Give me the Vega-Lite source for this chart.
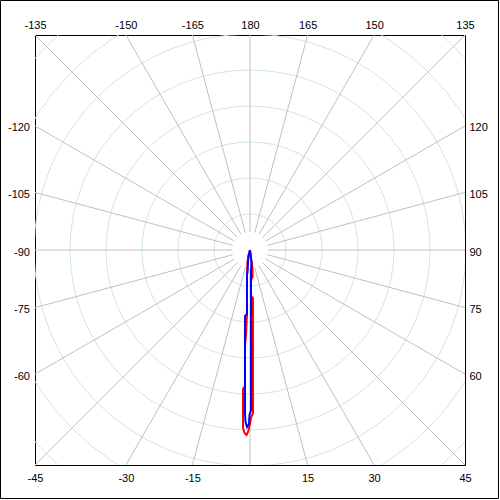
{
  "$schema": "https://vega.github.io/schema/vega-lite/v6.json",
  "width": 430,
  "height": 430,
  "autosize": {"type": "none"},
  "padding": 35,
  "background": "white",
  "config": {
    "view": {"stroke": "black", "strokeWidth": 1},
    "axis": {"labelFont": "Liberation Sans", "labelFontSize": 11, "labelColor": "black", "ticks": false, "domain": false, "grid": false, "tickSize": 0, "labelFlush": false, "labelOverlap": false, "labelBound": false}
  },
  "datasets": {
    "rings": [{"r": 36}, {"r": 72}, {"r": 108}, {"r": 144}, {"r": 180}, {"r": 216}, {"r": 252}, {"r": 288}],
    "spokes": [{"angle": -165}, {"angle": -150}, {"angle": -135}, {"angle": -120}, {"angle": -105}, {"angle": -90}, {"angle": -75}, {"angle": -60}, {"angle": -45}, {"angle": -30}, {"angle": -15}, {"angle": 0}, {"angle": 15}, {"angle": 30}, {"angle": 45}, {"angle": 60}, {"angle": 75}, {"angle": 90}, {"angle": 105}, {"angle": 120}, {"angle": 135}, {"angle": 150}, {"angle": 165}, {"angle": 180}],
    "red": [
      {"i": 1, "angle": 0, "r": 0},
      {"i": 2, "angle": -14.0, "r": 6.2},
      {"i": 3, "angle": -11.8, "r": 12.3},
      {"i": 4, "angle": -6.8, "r": 25.2},
      {"i": 5, "angle": -2.7, "r": 64.1},
      {"i": 6, "angle": -2.7, "r": 85.1},
      {"i": 7, "angle": -3.0, "r": 95.1},
      {"i": 8, "angle": -2.1, "r": 136.1},
      {"i": 9, "angle": -2.88, "r": 139.2},
      {"i": 10, "angle": -2.25, "r": 178.1},
      {"i": 11, "angle": -1.72, "r": 183.1},
      {"i": 12, "angle": -1.08, "r": 185.0},
      {"i": 13, "angle": -0.63, "r": 182.0},
      {"i": 14, "angle": -0.16, "r": 176.0},
      {"i": 15, "angle": 0.34, "r": 168.0},
      {"i": 16, "angle": 1.05, "r": 163.0},
      {"i": 17, "angle": 1.72, "r": 100.0},
      {"i": 18, "angle": 3.58, "r": 48.1},
      {"i": 19, "angle": 1.25, "r": 46.0},
      {"i": 20, "angle": 1.91, "r": 30.0},
      {"i": 21, "angle": 5.29, "r": 27.1},
      {"i": 22, "angle": 7.5, "r": 19.2},
      {"i": 23, "angle": 7.1, "r": 8.1},
      {"i": 24, "angle": 0, "r": 0}
    ],
    "blue": [
      {"i": 1, "angle": 0, "r": 0},
      {"i": 2, "angle": -14.0, "r": 6.2},
      {"i": 3, "angle": -9.5, "r": 12.2},
      {"i": 4, "angle": -6.5, "r": 22.1},
      {"i": 5, "angle": -6.8, "r": 25.2},
      {"i": 6, "angle": -2.7, "r": 64.1},
      {"i": 7, "angle": -4.3, "r": 66.2},
      {"i": 8, "angle": -2.4, "r": 120.1},
      {"i": 9, "angle": -1.76, "r": 163.1},
      {"i": 10, "angle": -1.5, "r": 172.1},
      {"i": 11, "angle": -0.97, "r": 177.0},
      {"i": 12, "angle": -0.33, "r": 174.0},
      {"i": 13, "angle": -0.17, "r": 165.0},
      {"i": 14, "angle": 0.36, "r": 160.0},
      {"i": 15, "angle": 0.57, "r": 100.0},
      {"i": 16, "angle": 1.15, "r": 50.0},
      {"i": 17, "angle": 2.6, "r": 22.0},
      {"i": 18, "angle": 7.1, "r": 12.1},
      {"i": 19, "angle": 7.1, "r": 4.0},
      {"i": 20, "angle": 0, "r": 0}
    ]
  },
  "resolve": {"axis": {"x": "independent", "y": "independent"}},
  "layer": [
    {
      "data": {"name": "rings"},
      "mark": {"type": "point", "shape": "circle", "filled": false, "color": "#cce6ee", "strokeWidth": 1, "opacity": 1, "clip": true},
      "encoding": {
        "x": {"datum": 0, "type": "quantitative", "scale": {"domain": [-215, 215], "nice": false, "zero": false}, "axis": null},
        "y": {"datum": 0, "type": "quantitative", "scale": {"domain": [-215, 215], "nice": false, "zero": false}, "axis": null},
        "size": {"field": "r", "type": "quantitative", "scale": {"type": "pow", "exponent": 2, "domain": [0, 216], "range": [0, 186624]}, "legend": null}
      }
    },
    {
      "data": {"name": "spokes"},
      "transform": [
        {"calculate": "datum.angle * PI / 180", "as": "a"},
        {"calculate": "18 * sin(datum.a)", "as": "x1"},
        {"calculate": "-18 * cos(datum.a)", "as": "y1"},
        {"calculate": "310 * sin(datum.a)", "as": "xe"},
        {"calculate": "-310 * cos(datum.a)", "as": "ye"}
      ],
      "mark": {"type": "rule", "color": "#c0c0c0", "strokeWidth": 1, "clip": true},
      "encoding": {
        "x": {"field": "x1", "type": "quantitative", "scale": {"domain": [-215, 215], "nice": false, "zero": false},
          "axis": {"orient": "top", "title": null, "values": [-215, -124.13, -57.61, 0, 57.61, 124.13, 215],
            "labelExpr": "datum.value < -200 ? '-135' : datum.value < -100 ? '-150' : datum.value < -30 ? '-165' : datum.value < 30 ? '180' : datum.value < 100 ? '165' : datum.value < 200 ? '150' : '135'",
            "labelBaseline": "middle", "labelPadding": 9.5}},
        "y": {"field": "y1", "type": "quantitative", "scale": {"domain": [-215, 215], "nice": false, "zero": false},
          "axis": {"orient": "left", "title": null, "values": [124.13, 57.61, 0, -57.61, -124.13],
            "labelExpr": "datum.value > 100 ? '-120' : datum.value > 30 ? '-105' : datum.value > -30 ? '-90' : datum.value > -100 ? '-75' : '-60'",
            "labelBaseline": "middle", "labelAlign": "right", "labelPadding": 5.5, "labelOffset": 2}},
        "x2": {"field": "xe"},
        "y2": {"field": "ye"}
      }
    },
    {
      "data": {"name": "red"},
      "transform": [
        {"calculate": "datum.r * sin(datum.angle * PI / 180)", "as": "px"},
        {"calculate": "-datum.r * cos(datum.angle * PI / 180)", "as": "py"}
      ],
      "mark": {"type": "line", "color": "#ff0000", "strokeWidth": 2, "clip": true},
      "encoding": {
        "x": {"field": "px", "type": "quantitative", "scale": {"domain": [-215, 215], "nice": false, "zero": false},
          "axis": {"orient": "bottom", "title": null, "values": [-215, -124.13, -57.61, 57.61, 124.13, 215],
            "labelExpr": "datum.value < -200 ? '-45' : datum.value < -100 ? '-30' : datum.value < 0 ? '-15' : datum.value < 100 ? '15' : datum.value < 200 ? '30' : '45'",
            "labelBaseline": "middle", "labelPadding": 13.5}},
        "y": {"field": "py", "type": "quantitative", "scale": {"domain": [-215, 215], "nice": false, "zero": false},
          "axis": {"orient": "right", "title": null, "values": [124.13, 57.61, 0, -57.61, -124.13],
            "labelExpr": "datum.value > 100 ? '120' : datum.value > 30 ? '105' : datum.value > -30 ? '90' : datum.value > -100 ? '75' : '60'",
            "labelBaseline": "middle", "labelAlign": "left", "labelPadding": 4, "labelOffset": 2}},
        "order": {"field": "i", "type": "quantitative"}
      }
    },
    {
      "data": {"name": "blue"},
      "transform": [
        {"calculate": "datum.r * sin(datum.angle * PI / 180)", "as": "px"},
        {"calculate": "-datum.r * cos(datum.angle * PI / 180)", "as": "py"}
      ],
      "mark": {"type": "line", "color": "#0000ff", "strokeWidth": 2, "clip": true},
      "encoding": {
        "x": {"field": "px", "type": "quantitative", "scale": {"domain": [-215, 215], "nice": false, "zero": false}, "axis": null},
        "y": {"field": "py", "type": "quantitative", "scale": {"domain": [-215, 215], "nice": false, "zero": false}, "axis": null},
        "order": {"field": "i", "type": "quantitative"}
      }
    },
    {
      "data": {"values": [{}]},
      "mark": {"type": "rect", "fillOpacity": 0, "stroke": "black", "strokeWidth": 1, "clip": false},
      "encoding": {
        "x": {"datum": -249.5, "type": "quantitative", "scale": {"domain": [-215, 215], "nice": false, "zero": false}, "axis": null},
        "x2": {"datum": 248.5},
        "y": {"datum": 249.5, "type": "quantitative", "scale": {"domain": [-215, 215], "nice": false, "zero": false}, "axis": null},
        "y2": {"datum": -248.5}
      }
    }
  ]
}
